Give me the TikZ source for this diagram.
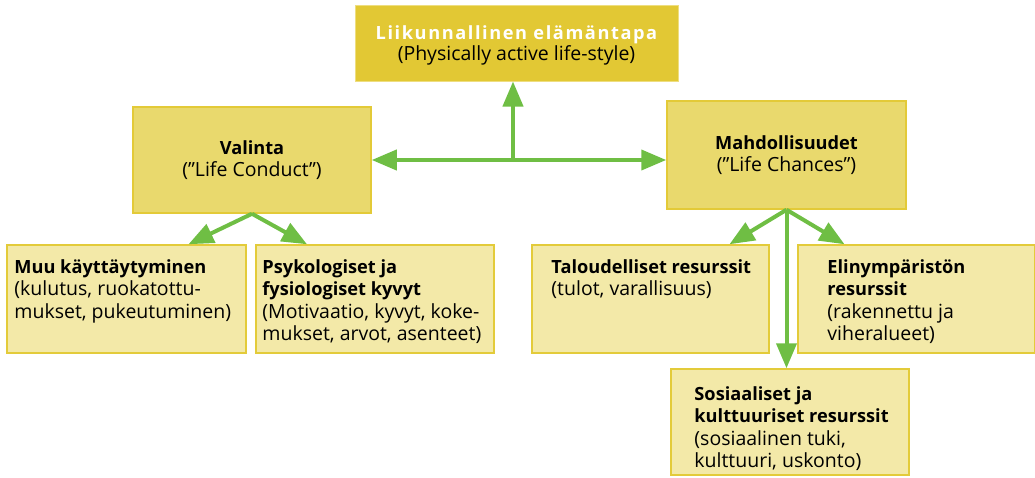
\documentclass[tikz,border=0pt]{standalone}
\usepackage{fontspec}
\setmainfont{Open Sans}
\usetikzlibrary{arrows.meta}
\usetikzlibrary{positioning}
\definecolor{goldfill}{HTML}{E2C834}
\definecolor{goldline}{HTML}{EEDE80}
\definecolor{midfill}{HTML}{E9D96D}
\definecolor{midline}{HTML}{E3CA38}
\definecolor{lowfill}{HTML}{F3E9A8}
\definecolor{lowline}{HTML}{E3CB3A}
\definecolor{leafgreen}{HTML}{6FBE44}
\newcommand{\boxhead}[1]{{\fontsize{18.2}{22.5}\selectfont\bfseries #1}}

\begin{document}
\begin{tikzpicture}[x=1pt,y=-1pt,>={Triangle[length=25pt,width=20pt]},
    top node/.style={rectangle,fill=goldfill,draw=goldline,line width=1pt,minimum width=323pt,minimum height=76pt,inner sep=0pt,align=center,font=\fontsize{19.5}{21}\selectfont},
    mid node/.style={rectangle,fill=midfill,draw=midline,line width=1.5pt,minimum width=238pt,minimum height=106pt,inner sep=0pt,align=center,font=\fontsize{19.5}{22.5}\selectfont},
    low node/.style={rectangle,fill=lowfill,draw=lowline,line width=1.5pt,minimum width=238pt,minimum height=108pt,inner sep=0pt},
    txt node/.style={anchor=north west,align=left,inner sep=0pt,font=\fontsize{19.5}{22.5}\selectfont},
    link/.style={draw=leafgreen,line width=4pt}]
   \useasboundingbox (0,0) rectangle (1035,477);
   % boxes
   \node[top node] (t) at (516.5,43) {\rule{0pt}{18pt}\textcolor{white}{\boxhead{\addfontfeature{LetterSpace=8.7}Liikunnallinen elämäntapa}}\\(Physically active life-style)};
   \node[mid node] (v) at (252,160) {\boxhead{Valinta}\\(”Life Conduct”)};
   \node[mid node,minimum height=108pt,minimum width=239pt] (m) at (786.5,155) {\boxhead{Mahdollisuudet}\\(”Life Chances”)};
   \node[low node,minimum width=239pt] (a) at (126.5,299) {};
   \node[low node] (b) at (375,299) {};
   \node[low node,minimum width=237pt] (c) at (650.5,299) {};
   \node[low node,minimum width=237pt] (d) at (916.5,299) {};
   \node[low node,minimum height=106pt] (e) at (790,422) {};
   % texts
   \node[txt node] (at) at ([xshift=8pt,yshift=-15pt]a.north west) {\boxhead{Muu käyttäytyminen}\\(kulutus, ruokatottu-\\mukset, pukeutuminen)};
   \node[txt node] (bt) at ([xshift=7pt,yshift=-15pt]b.north west) {\boxhead{Psykologiset ja}\\\boxhead{fysiologiset kyvyt}\\(Motivaatio, kyvyt, koke-\\mukset, arvot, asenteet)};
   \node[txt node] (ct) at ([xshift=20pt,yshift=-15pt]c.north west) {\boxhead{Taloudelliset resurssit}\\(tulot, varallisuus)};
   \node[txt node] (dt) at ([xshift=30pt,yshift=-15pt]d.north west) {\boxhead{Elinympäristön}\\\boxhead{resurssit}\\(rakennettu ja\\viheralueet)};
   \node[txt node] (et) at ([xshift=24pt,yshift=-18pt]e.north west) {\boxhead{Sosiaaliset ja}\\\boxhead{kulttuuriset resurssit}\\(sosiaalinen tuki,\\kulttuuri, uskonto)};
   % arrows
   \coordinate (j) at (513,160);
   \draw[link,->] (j) -- (v.east);
   \draw[link,->] (j) -- (j -| m.west);
   \draw[link,->] (j) -- (j |- t.south);
   \draw[link,->] (v.south) -- ([xshift=62pt]a.north);
   \draw[link,->] (v.south) -- ([xshift=-68pt]b.north);
   \draw[link,->] (m.south) -- ([xshift=79pt]c.north);
   \draw[link,->] (m.south) -- ([xshift=-72pt]d.north);
   \draw[link,->] (m.south) -- (m.south |- e.north);
\end{tikzpicture}
\end{document}
